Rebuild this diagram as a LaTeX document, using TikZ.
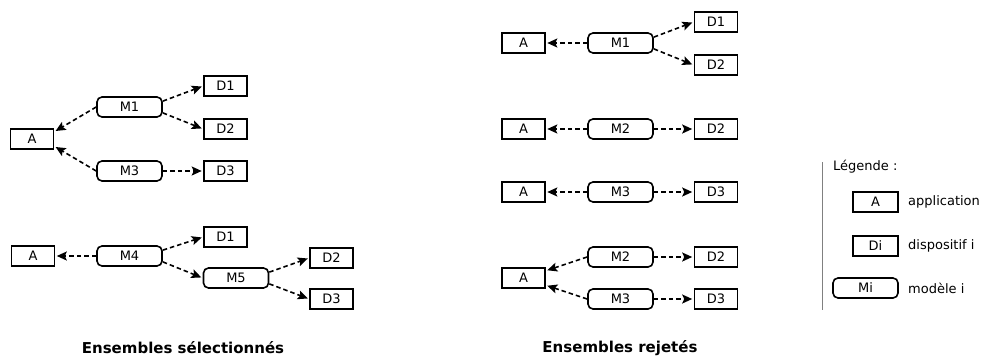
\documentclass[tikz,border=0pt]{standalone}
\usepackage{fontspec}
\setmainfont{DejaVu Sans}
\usepackage{tikz}
\usetikzlibrary{arrows.meta}
\tikzset{
  appbox/.style={draw,line width=1.6pt,minimum width=43pt,minimum height=20pt,inner sep=0pt},
  modbox/.style={appbox,rounded corners=5pt,minimum width=65pt},
  linkarrow/.style={line width=1.6pt,dash pattern=on 4.5pt off 3pt,-{Stealth[length=10pt,width=9pt,inset=2pt]},shorten >=1.5pt},
  caption/.style={font=\fontsize{15}{18}\selectfont\bfseries}
}

\begin{document}
\begin{tikzpicture}[x=1pt,y=-1pt,font=\fontsize{13}{15}\selectfont]
    \useasboundingbox (0,0) rectangle (991,359);
    % selected sets, first group
    \node[appbox] (a1) at (32,139) {A};
    \node[modbox] (m1) at (129.5,107) {M1};
    \node[modbox] (m3) at (129.5,171) {M3};
    \node[appbox] (d1) at (225.5,86) {D1};
    \node[appbox] (d2) at (225.5,129) {D2};
    \node[appbox] (d3) at (225.5,171) {D3};
    \draw[linkarrow] (m1.west) -- (a1.18);
    \draw[linkarrow] (m3.west) -- (a1.-18);
    \draw[linkarrow] (m1.10) -- (d1.west);
    \draw[linkarrow] (m1.-10) -- (d2.west);
    \draw[linkarrow] (m3.east) -- (d3.west);
    % selected sets, second group
    \node[appbox] (a2) at (33,256) {A};
    \node[modbox] (m4) at (129.5,256) {M4};
    \node[appbox] (d4) at (225.5,237) {D1};
    \node[modbox] (m5) at (236,278) {M5};
    \node[appbox] (d5) at (331.5,258) {D2};
    \node[appbox] (d6) at (331.5,299) {D3};
    \draw[linkarrow] (m4.west) -- (a2.east);
    \draw[linkarrow] (m4.10) -- (d4.west);
    \draw[linkarrow] (m4.-10) -- (m5.west);
    \draw[linkarrow] (m5.10) -- (d5.west);
    \draw[linkarrow] (m5.-10) -- (d6.west);
    \node[caption] (sel) at (183,348) {Ensembles sélectionnés};
    % rejected sets
    \node[appbox] (ra1) at (523.5,43) {A};
    \node[modbox] (rm1) at (620.5,43) {M1};
    \node[appbox] (rd1) at (716,22) {D1};
    \node[appbox] (rd2) at (716,65) {D2};
    \draw[linkarrow] (rm1.west) -- (ra1.east);
    \draw[linkarrow] (rm1.10) -- (rd1.west);
    \draw[linkarrow] (rm1.-10) -- (rd2.west);
    \node[appbox] (ra2) at (523.5,129) {A};
    \node[modbox] (rm2) at (620.5,129) {M2};
    \node[appbox] (rd3) at (716,129) {D2};
    \draw[linkarrow] (rm2.west) -- (ra2.east);
    \draw[linkarrow] (rm2.east) -- (rd3.west);
    \node[appbox] (ra3) at (523.5,192) {A};
    \node[modbox] (rm3) at (620.5,192) {M3};
    \node[appbox] (rd4) at (716,192) {D3};
    \draw[linkarrow] (rm3.west) -- (ra3.east);
    \draw[linkarrow] (rm3.east) -- (rd4.west);
    \node[appbox] (ra4) at (523.5,278) {A};
    \node[modbox] (rm4) at (620.5,257) {M2};
    \node[modbox] (rm5) at (620.5,299) {M3};
    \node[appbox] (rd5) at (716,257) {D2};
    \node[appbox] (rd6) at (716,299) {D3};
    \draw[linkarrow] (rm4.west) -- (ra4.18);
    \draw[linkarrow] (rm5.west) -- (ra4.-18);
    \draw[linkarrow] (rm4.east) -- (rd5.west);
    \draw[linkarrow] (rm5.east) -- (rd6.west);
    \node[caption] (rej) at (620,348) {Ensembles rejetés};
    % legend
    \draw[gray,line width=1pt] (822,162) -- (822,310);
    \node[anchor=west,inner sep=0pt] (leg) at (833,167) {Légende :};
    \node[appbox,minimum width=45pt] (la) at (875.5,202) {A};
    \node[appbox,minimum width=45pt] (ld) at (875.5,246) {Di};
    \node[modbox] (lm) at (865.5,288) {Mi};
    \node[anchor=west,inner sep=0pt] (lat) at (908,202) {application};
    \node[anchor=west,inner sep=0pt] (ldt) at (908,246) {dispositif i};
    \node[anchor=west,inner sep=0pt] (lmt) at (908,288) {modèle i};
\end{tikzpicture}
\end{document}
